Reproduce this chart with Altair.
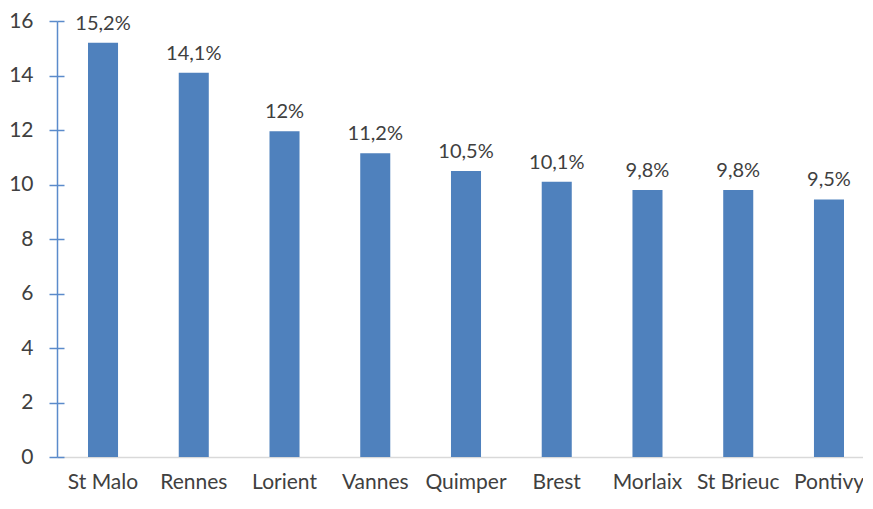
import altair as alt
import pandas as pd

cities = ["St Malo", "Rennes", "Lorient", "Vannes", "Quimper", "Brest", "Morlaix", "St Brieuc", "Pontivy"]
values = [15.2, 14.1, 11.95, 11.15, 10.5, 10.1, 9.8, 9.8, 9.45]
labels = ["15,2%", "14,1%", "12%", "11,2%", "10,5%", "10,1%", "9,8%", "9,8%", "9,5%"]
y_ticks = [0, 2, 4, 6, 8, 10, 12, 14, 16]

df = pd.DataFrame({"city": cities, "value": values, "label": labels})

FONT = "Lato"
TEXT = "#404040"
BLUE = "#4F81BD"
AXIS_BLUE = "#5B8BCB"

xscale = alt.Scale(paddingInner=0.669, paddingOuter=0.2755, align=0.62)
yscale = alt.Scale(domain=[0, 16], nice=False)

x_enc = alt.X("city:N", sort=cities, scale=xscale, title=None,
              axis=alt.Axis(labelAngle=0, ticks=False, tickSize=0, labelFont=FONT, labelFontSize=21,
                            labelColor=TEXT, labelPadding=14, domainColor="#D9D9D9",
                            domainWidth=1.5, labelOverlap=False))

bars = alt.Chart(df).mark_bar(color=BLUE).encode(
    x=x_enc,
    y=alt.Y("value:Q", scale=yscale, title=None,
            axis=alt.Axis(values=y_ticks, grid=False, tickSize=8, tickColor=AXIS_BLUE,
                          tickWidth=1.5, domainColor=AXIS_BLUE, domainWidth=1.5,
                          labelFont=FONT, labelFontSize=21, labelColor=TEXT,
                          labelPadding=16, orient="left")),
)

text = alt.Chart(df).mark_text(font=FONT, fontSize=20, color=TEXT, baseline="alphabetic", dy=-13).encode(
    x=x_enc,
    y=alt.Y("value:Q", scale=yscale, title=None,
            axis=alt.Axis(values=y_ticks, grid=False, tickSize=7, tickColor=AXIS_BLUE,
                          tickWidth=1.5, domain=False, labels=False, offset=-7, orient="left")),
    text="label:N",
)

chart = alt.layer(bars, text).resolve_axis(y="independent").properties(
    width=806, height=436,
    autosize=alt.AutoSizeParams(type="none"),
    padding={"left": 49, "top": 13, "right": 0, "bottom": 39},
).configure_view(stroke=None)

chart.save("out.html", embed_options={"renderer": "svg", "actions": False})
